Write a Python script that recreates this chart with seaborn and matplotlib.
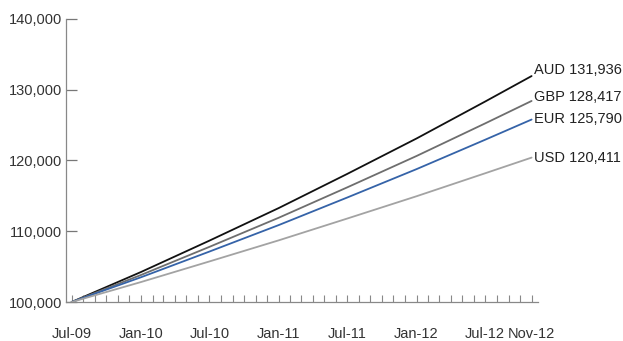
import matplotlib
matplotlib.use("Agg")
import matplotlib.pyplot as plt
import matplotlib.dates as mdates
import matplotlib.ticker as mticker
import matplotlib.transforms as mtransforms
import pandas as pd
import seaborn as sns

# Growth of 100,000 invested, by currency
dates = ["2009-07-01", "2010-01-01", "2010-07-01", "2011-01-01",
         "2011-07-01", "2012-01-01", "2012-07-01", "2012-11-01"]
aud = [100000, 104245, 108670, 113284, 118094, 123109, 128336, 131936]
gbp = [100000, 103823, 107792, 111913, 116193, 120635, 125246, 128417]
eur = [100000, 103502, 107126, 110877, 114759, 118778, 122937, 125790]
usd = [100000, 102825, 105730, 108718, 111789, 114947, 118196, 120411]
currencies = ["AUD", "GBP", "EUR", "USD"]
colors = ["#111111", "#6e6e6e", "#3563a8", "#a3a3a3"]
label_lift_px = [6, 4, 1, 0]
y_ticks = [100000, 110000, 120000, 130000, 140000]
x_tick_dates = dates

sns.set_style("white")
plt.rcParams["font.family"] = ["Liberation Sans", "DejaVu Sans"]

df = pd.DataFrame({
    "date": pd.to_datetime(dates * 4),
    "value": aud + gbp + eur + usd,
    "currency": [c for c in currencies for _ in dates],
})

fig = plt.figure(figsize=(6.23, 3.41), dpi=100)
ax = fig.add_axes([66 / 623, 39 / 341, (538 - 66) / 623, (302 - 19) / 341])

sns.lineplot(data=df, x="date", y="value", hue="currency",
             palette=dict(zip(currencies, colors)), linewidth=1.3,
             legend=False, ax=ax)

ax.set_xlim(pd.Timestamp("2009-06-16"), pd.Timestamp("2012-11-18"))
ax.set_ylim(100000, 140000)

# y axis
ax.set_yticks(y_ticks)
ax.yaxis.set_major_formatter(mticker.FuncFormatter(lambda v, p: f"{int(v):,}"))
ax.tick_params(axis="y", left=True, direction="in", length=8, width=0.9,
               color="#777777", labelsize=10.5, labelcolor="#333333", pad=3)

# x axis: labelled dates plus monthly minor ticks
ax.set_xticks(pd.to_datetime(x_tick_dates))
ax.xaxis.set_major_formatter(mdates.DateFormatter("%b-%y"))
ax.xaxis.set_minor_locator(mdates.MonthLocator())
ax.tick_params(axis="x", which="both", bottom=True, direction="in", length=5,
               width=0.8, color="#888888")
ax.tick_params(axis="x", which="major", labelsize=10.5, labelcolor="#333333", pad=18)

for side in ["top", "right"]:
    ax.spines[side].set_visible(False)
for side in ["left", "bottom"]:
    ax.spines[side].set_color("#888888")
    ax.spines[side].set_linewidth(0.9)

ax.set_xlabel("")
ax.set_ylabel("")

# End-of-line labels
series = [aud, gbp, eur, usd]
last_date = pd.Timestamp(dates[-1])
for name, vals, lift in zip(currencies, series, label_lift_px):
    off = mtransforms.offset_copy(ax.transData, fig=fig, x=2.5 * 72 / 100,
                                  y=lift * 72 / 100, units="points")
    ax.text(last_date, vals[-1], f"{name} {vals[-1]:,}", transform=off,
            ha="left", va="center", fontsize=10.5, color="#222222", clip_on=False)

fig.savefig("out.png", dpi=100)
